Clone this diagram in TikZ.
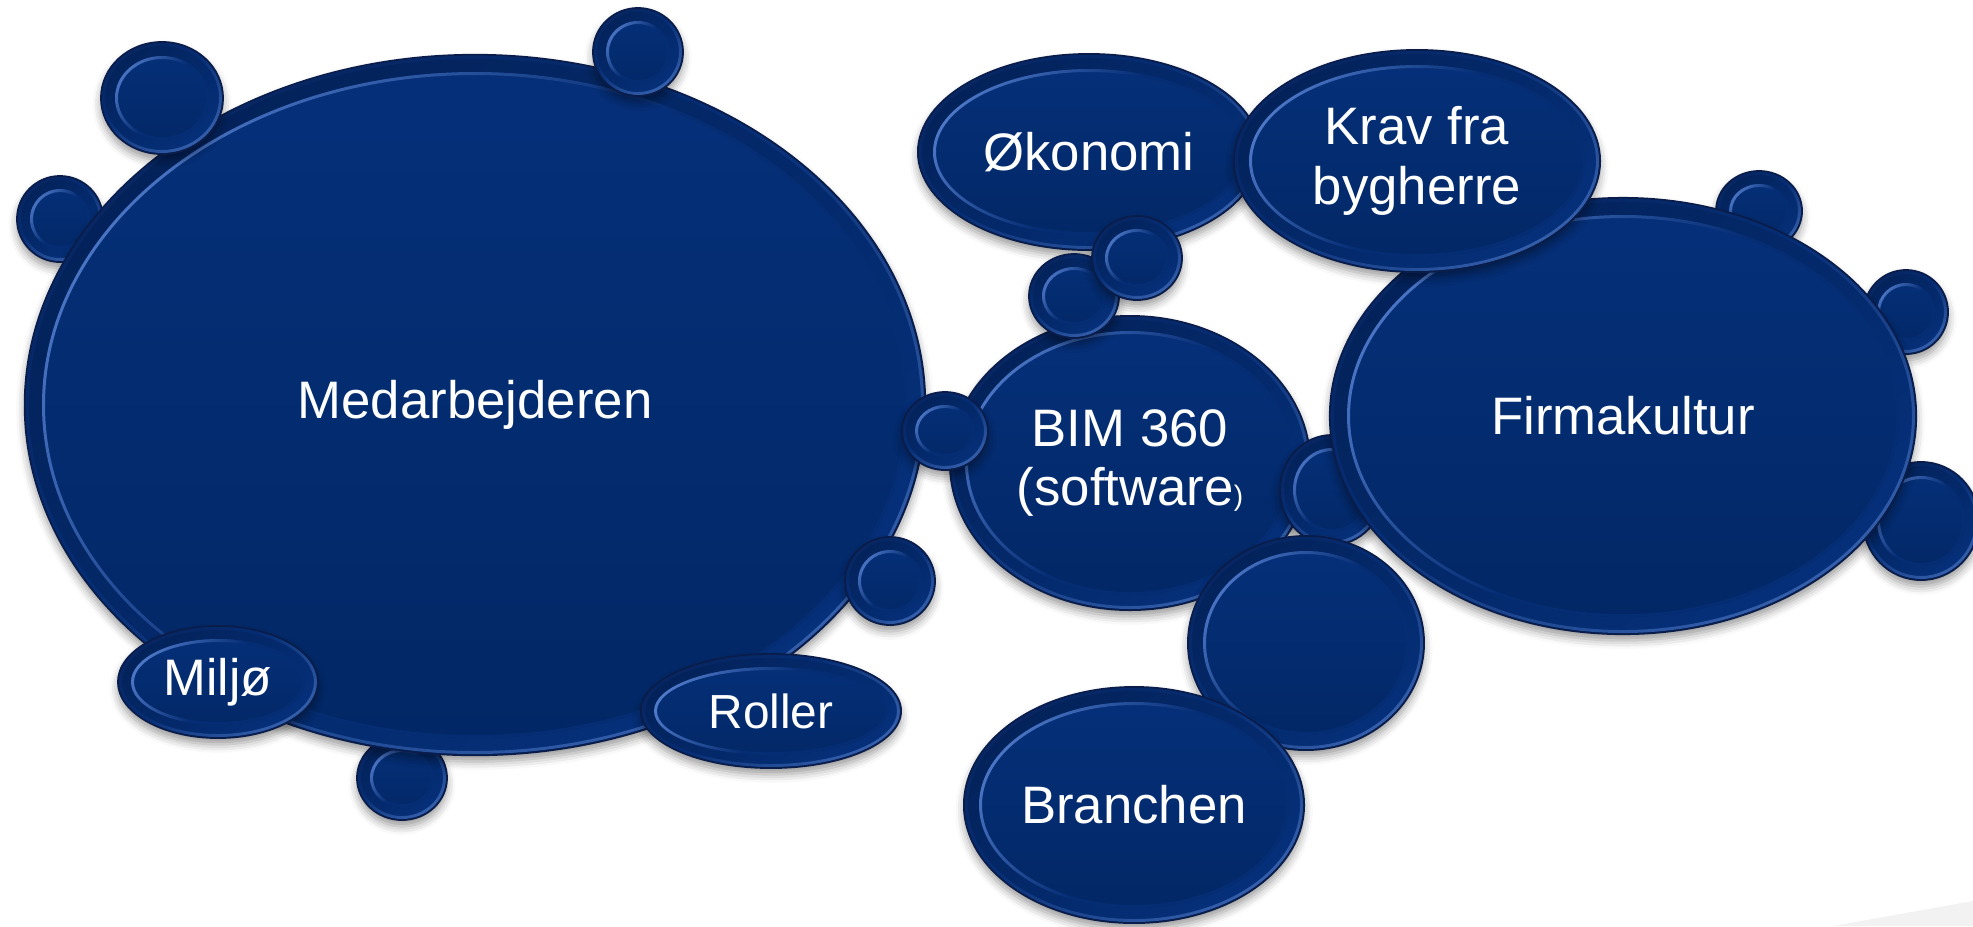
\documentclass[tikz,border=0pt]{standalone}
\usepackage{fontspec}
\setmainfont{Liberation Sans}
\usetikzlibrary{shapes.geometric,shadows.blur}
\definecolor{navyT}{HTML}{05307A}
\definecolor{navyB}{HTML}{022765}
\definecolor{edgeC}{HTML}{0A1D4A}
\definecolor{hiC}{HTML}{5580D0}
\definecolor{midC}{HTML}{052D74}
\definecolor{ringD}{HTML}{03225A}
\definecolor{pale}{HTML}{F2F2F2}
\pgfdeclareverticalshading{rimhi}{100bp}{color(0bp)=(midC); color(50bp)=(midC); color(80bp)=(hiC); color(100bp)=(hiC)}
\pgfdeclareverticalshading{rimlo}{100bp}{color(0bp)=(hiC); color(25bp)=(hiC!60!midC); color(55bp)=(midC); color(100bp)=(edgeC)}
\tikzset{
  bub/.style n args={3}{ellipse, inner sep=0pt, outer sep=0pt,
    minimum width={0.02cm*#1}, minimum height={0.02cm*#2},
    top color=navyT, bottom color=navyB, draw=edgeC, line width=0.5pt,
    blur shadow={shadow xshift=0pt, shadow yshift=-1.8pt, shadow blur radius=2.4pt, shadow opacity=40},
    text=white, align=center, font=\fontsize{15}{17}\selectfont,
    path picture={
      \shade[even odd rule, top color=ringD, bottom color=navyT, shading angle=40]
        (path picture bounding box.center) ellipse [x radius={0.01cm*(#1-3)}, y radius={0.01cm*(#2-3)}]
        (path picture bounding box.center) ellipse [x radius={0.01cm*(#1-#3)}, y radius={0.01cm*(#2-#3)}];
      \shade[even odd rule, shading=rimlo, shading angle=35]
        (path picture bounding box.center) ellipse [x radius={0.01cm*(#1-1)}, y radius={0.01cm*(#2-1)}]
        (path picture bounding box.center) ellipse [x radius={0.01cm*(#1-4)}, y radius={0.01cm*(#2-4)}];
      \shade[even odd rule, shading=rimhi, shading angle=55]
        (path picture bounding box.center) ellipse [x radius={0.01cm*(#1-#3)}, y radius={0.01cm*(#2-#3)}]
        (path picture bounding box.center) ellipse [x radius={0.01cm*(#1-#3-3)}, y radius={0.01cm*(#2-#3-3)}];
    }},
  smallfont/.style={font=\fontsize{#1}{#1}\selectfont},
}
\begin{document}
\begin{tikzpicture}[x=0.01cm, y=-0.01cm]
\useasboundingbox (0,0) rectangle (1973,926);
\fill[pale] (1833,926) -- (1973,901) -- (1973,926) -- cycle;
% satellites behind the big ellipse
\node[bub={43}{43}{13}] (c) at (60,219) {};
\node[bub={45}{42}{13}] (e) at (402,778) {};
% Medarbejderen
\node[bub={450}{350}{17}] (med) at (475,405) {Medarbejderen};
\node[bub={61}{56}{14}] (a) at (162,98) {};
\node[bub={45}{44}{13}] (b) at (638,52) {};
\node[bub={45}{44}{13}] (d) at (890,581) {};
\node[bub={100}{56}{13}, smallfont=14.6] (milj) at (218,682) {Miljø};
\node[bub={130}{57}{13}, smallfont=13.6] (roller) at (771,711) {Roller};
% middle cluster
\node[bub={171}{98}{15}] (oko) at (1089,152) {Økonomi};
\node[bub={180}{147}{15}] (bim) at (1130,463) {BIM 360\\(software{\fontsize{8}{8}\selectfont)}};
\node[bub={45}{42}{13}] (g) at (1074,296) {};
\node[bub={45}{42}{13}] (f) at (1137,258) {};
\node[bub={43}{39}{13}] (h) at (945,431) {};
\node[bub={52}{55}{13}] (i) at (1332,490) {};
\node[bub={118}{107}{15}] (j) at (1306,643) {};
\node[bub={170}{118}{15}] (branchen) at (1134,805) {Branchen};
% right cluster
\node[bub={43}{40}{13}] (k) at (1759,211) {};
\node[bub={42}{42}{13}] (l) at (1906,312) {};
\node[bub={58}{59}{14}] (n) at (1921,521) {};
\node[bub={293}{218}{17}] (firma) at (1623,416) {Firmakultur};
\node[bub={183}{111}{15}] (krav) at (1417,161) {Krav fra\\bygherre};
\end{tikzpicture}
\end{document}
